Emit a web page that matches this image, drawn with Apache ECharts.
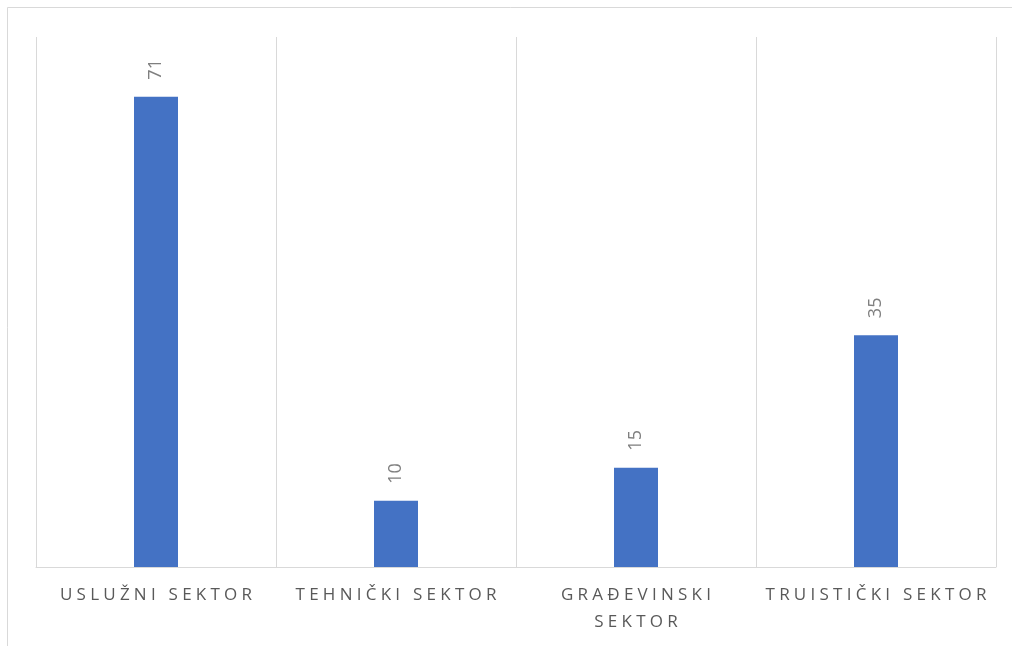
<!DOCTYPE html>
<html>
<head>
<meta charset="utf-8">
<script src="https://cdn.jsdelivr.net/npm/echarts@6/dist/echarts.min.js"></script>
<style>
  html, body { margin: 0; padding: 0; background: #fff; }
  #main { width: 1012px; height: 646px; }
</style>
</head>
<body>
<div id="main"></div>
<script>
var categories = ['USLUŽNI SEKTOR', 'TEHNIČKI SEKTOR', 'GRAĐEVINSKI SEKTOR', 'TRUISTIČKI SEKTOR'];
var values = [71, 10, 15, 35];

// spread the letters a bit, like the original's character spacing
var GAP = '\u2005';
function spaced(s) {
    if (s.length > 17) s = s.replace(' ', '\n');
    return s.split('\n').map(function (line) {
        return line.split('').join(GAP);
    }).join('\n');
}

var chart = echarts.init(document.getElementById('main'));
chart.setOption({
    animation: false,
    backgroundColor: '#fff',
    graphic: [{
        type: 'rect',
        shape: { x: 7.5, y: 7.5, width: 1020, height: 660 },
        style: { fill: 'none', stroke: '#d9d9d9', lineWidth: 1 },
        silent: true
    }],
    grid: { left: 36, right: 16, top: 37, bottom: 79 },
    xAxis: {
        type: 'category',
        data: categories,
        axisLine: { lineStyle: { color: '#d9d9d9', width: 1 } },
        axisTick: { show: false },
        splitLine: { show: true, lineStyle: { color: '#d9d9d9', width: 1 } },
        axisLabel: {
            interval: 0,
            margin: 15,
            color: '#595959',
            fontFamily: 'Open Sans',
            fontSize: 17,
            lineHeight: 27,
            formatter: spaced
        }
    },
    yAxis: {
        type: 'value',
        min: 0,
        max: 80,
        show: false,
        splitLine: { show: false }
    },
    series: [{
        type: 'bar',
        data: values,
        barWidth: 44,
        itemStyle: { color: '#4472c4' },
        label: {
            show: true,
            position: 'top',
            rotate: 90,
            align: 'left',
            verticalAlign: 'middle',
            distance: 17,
            color: '#7f7f7f',
            fontFamily: 'Open Sans',
            fontSize: 18
        }
    }]
});
</script>
</body>
</html>
